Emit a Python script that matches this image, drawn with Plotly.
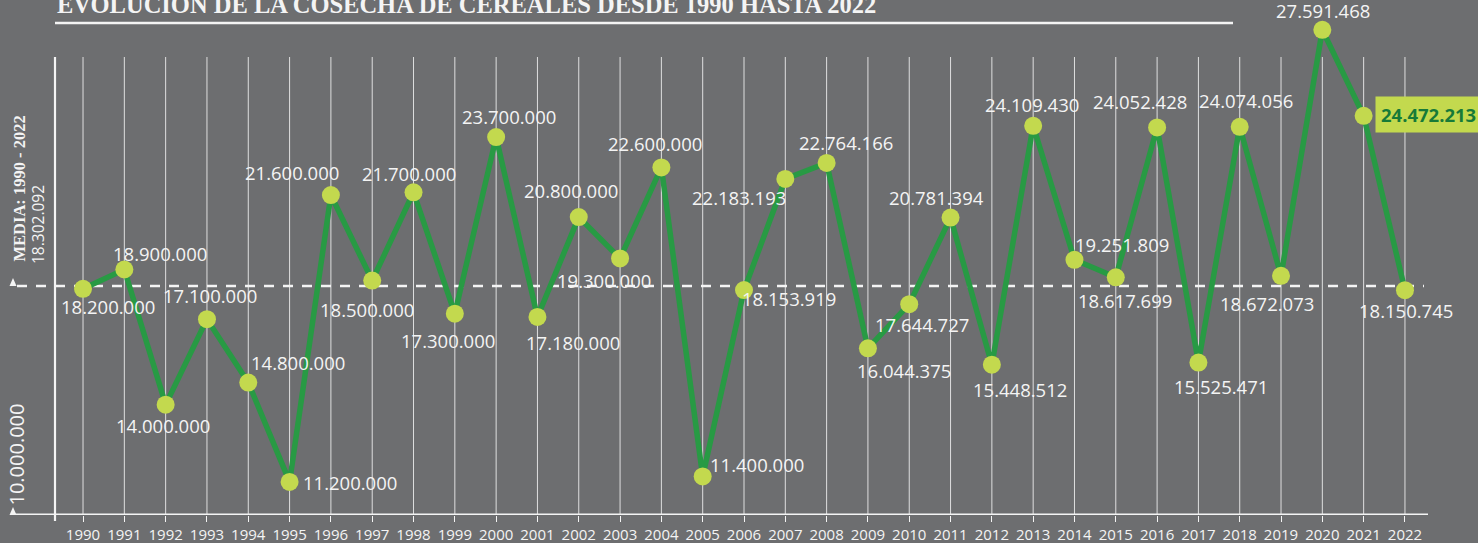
import plotly.graph_objects as go

# ---------------- data ----------------
years = list(range(1990, 2023))
harvest = [18200000, 18900000, 14000000, 17100000, 14800000, 11200000, 21600000,
           18500000, 21700000, 17300000, 23700000, 17180000, 20800000, 19300000,
           22600000, 11400000, 18153919, 22183193, 22764166, 16044375, 17644727,
           20781394, 15448512, 24109430, 19251809, 18617699, 24052428, 15525471,
           24074056, 18672073, 27591468, 24472213, 18150745]
mean_value = 18302092
axis_base = 10000000
title_text = "EVOLUCIÓN DE LA COSECHA DE CEREALES DESDE 1990 HASTA 2022"
mean_title = "MEDIA: 1990 - 2022"
highlight_year = 2021

# label offsets (pixels, relative to marker: +x right, +y down)
label_dx = [25, 36, -3, 3, 50, 60, -39, -5, -5, -7, 13, 36, -8, -16, -6, 54, 45,
            -46, 19, 36, 13, -14, 28, -1, 48, 9, -17, 23, 6, -14, 1, 65, 1]
label_dy = [18, -16, 21, -24, -20, 1, -23, 29, -19, 27, -21, 26, -27, 22, -24,
            -12, 8, 19, -20, 22, 20, -20, 25, -21, -15, 23, -26, 24, -26, 28,
            -19, -1, 20]


def es_fmt(v):
    return f"{v:,}".replace(",", ".")


# ---------------- style ----------------
W, H = 1478, 543
BG = "#6d6e70"
GREEN = "#289a44"
LIME = "#c3d94e"
DARKGREEN = "#167a38"
WHITE = "#f4f4f4"
SANS = "Open Sans"
SERIF = "Liberation Serif"

PLOT_H = 515  # plot area height in px (margin bottom = 28)
x_lo, x_hi = 1987.99, 2023.768
y_lo = axis_base
y_hi = axis_base + PLOT_H * (mean_value - axis_base) / (515 - 286)


def px(xp):
    return xp / W


def py(yp):
    return (PLOT_H - yp) / PLOT_H


fig = go.Figure()

fig.add_trace(go.Scatter(
    x=years, y=harvest, mode="lines+markers",
    line=dict(color=GREEN, width=5.5),
    marker=dict(color=LIME, size=18, line=dict(width=0)),
    cliponaxis=False, hoverinfo="x+y", showlegend=False,
))

shapes = []
# vertical grid lines at every year
for yr in years:
    shapes.append(dict(type="line", xref="x", yref="paper", x0=yr, x1=yr,
                       y0=py(515), y1=py(57),
                       line=dict(color="rgba(255,255,255,0.78)", width=1),
                       layer="below"))
# left vertical axis line
shapes.append(dict(type="line", xref="paper", yref="paper", x0=px(55), x1=px(55),
                   y0=py(521), y1=py(57), line=dict(color=WHITE, width=2.2),
                   layer="below"))
# bottom axis line
shapes.append(dict(type="line", xref="paper", yref="y", x0=px(12), x1=px(1428),
                   y0=axis_base, y1=axis_base, line=dict(color=WHITE, width=3),
                   layer="above"))
# mean dashed line
shapes.append(dict(type="line", xref="paper", yref="y", x0=px(17), x1=px(1424),
                   y0=mean_value, y1=mean_value,
                   line=dict(color=WHITE, width=2.5, dash="10px,9px"),
                   layer="below"))
# title underline
shapes.append(dict(type="line", xref="paper", yref="paper", x0=px(55), x1=px(1233),
                   y0=py(23), y1=py(23), line=dict(color=WHITE, width=2.5)))
# small arrow heads on the left
for yy in (mean_value, axis_base):
    shapes.append(dict(type="path", xref="paper", yref="y", xsizemode="pixel",
                       ysizemode="pixel", xanchor=px(13), yanchor=yy,
                       path="M -3.5 0 L 3.5 0 L 0 8 Z", fillcolor=WHITE,
                       line=dict(width=0)))

annotations = []
for i, (yr, v) in enumerate(zip(years, harvest)):
    if yr == highlight_year:
        annotations.append(dict(
            x=yr, y=v, xref="x", yref="y", text=f"<b>{es_fmt(v)}</b>",
            showarrow=False, xshift=label_dx[i], yshift=-label_dy[i],
            font=dict(family=SANS, size=18.5, color=DARKGREEN),
            bgcolor=LIME, borderpad=5))
    else:
        annotations.append(dict(
            x=yr, y=v, xref="x", yref="y", text=es_fmt(v),
            showarrow=False, xshift=label_dx[i], yshift=-label_dy[i],
            font=dict(family=SANS, size=18.5, color=WHITE)))

# title
annotations.append(dict(x=px(55), y=py(4), xref="paper", yref="paper",
                        xanchor="left", yanchor="middle", showarrow=False,
                        text=f"<b>{title_text}</b>",
                        font=dict(family=SERIF, size=24.5, color=WHITE)))
# left rotated labels
annotations.append(dict(x=px(19), y=py(188.5), xref="paper", yref="paper",
                        xanchor="center", yanchor="middle",
                        showarrow=False, textangle=-90, text=f"<b>{mean_title}</b>",
                        font=dict(family=SERIF, size=16.5, color=WHITE)))
annotations.append(dict(x=px(38), y=py(225), xref="paper", yref="paper",
                        xanchor="center", yanchor="middle",
                        showarrow=False, textangle=-90, text=es_fmt(mean_value),
                        font=dict(family=SANS, size=15.5, color=WHITE)))
annotations.append(dict(x=px(16), y=py(454.5), xref="paper", yref="paper",
                        xanchor="center", yanchor="middle",
                        showarrow=False, textangle=-90, text=es_fmt(axis_base),
                        font=dict(family=SANS, size=20, color=WHITE)))

fig.update_layout(
    width=W, height=H, autosize=False,
    paper_bgcolor=BG, plot_bgcolor=BG,
    margin=dict(l=0, r=0, t=0, b=H - PLOT_H, pad=0),
    showlegend=False,
    shapes=shapes, annotations=annotations,
    xaxis=dict(range=[x_lo, x_hi], tickmode="array", tickvals=years,
               ticktext=[str(y) for y in years], showgrid=False, zeroline=False,
               showline=False, ticks="outside", ticklen=6, tickwidth=1.2,
               tickcolor=WHITE, tickfont=dict(family=SANS, size=15, color=WHITE),
               fixedrange=True),
    yaxis=dict(range=[y_lo, y_hi], showgrid=False, zeroline=False,
               showticklabels=False, showline=False, fixedrange=True),
)

fig.write_html(
    "out.html",
    config={"displayModeBar": False},
    post_script="document.body.style.margin='0';document.body.style.padding='0';"
                "document.body.style.overflow='hidden';",
)
